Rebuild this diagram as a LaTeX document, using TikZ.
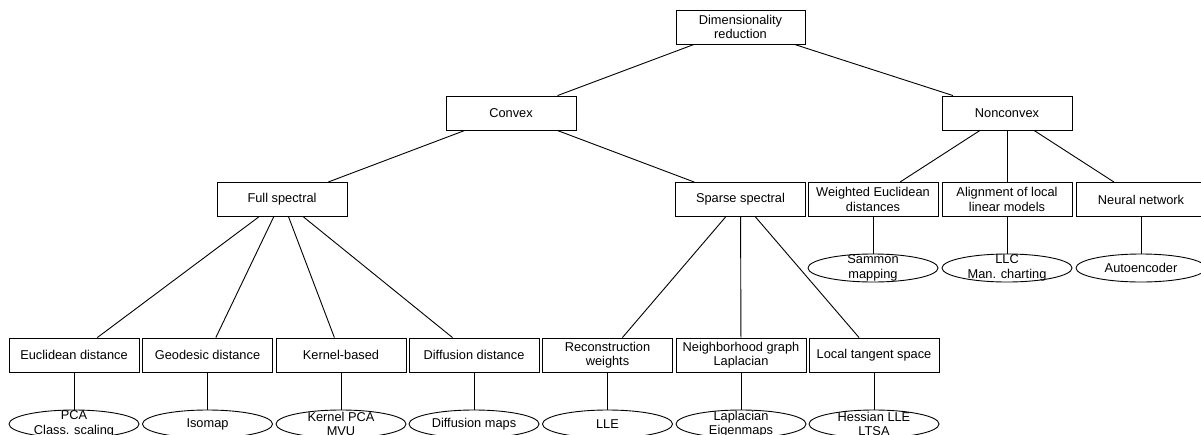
\documentclass[tikz,border=0pt]{standalone}
\usepackage{fontspec}
\setmainfont{Liberation Sans}
\usetikzlibrary{shapes.geometric}

\begin{document}
\begin{tikzpicture}[x=1pt, y=-1pt, line width=0.9pt,
    every node/.style={font=\fontsize{12.8}{14.5}\selectfont},
    box/.style={draw, rectangle, minimum width=130pt, minimum height=34pt,
        inner sep=0pt, align=center},
    leaf/.style={draw, ellipse, minimum width=130pt, minimum height=28pt,
        inner sep=0pt}]

\useasboundingbox (0, 0) rectangle (1201, 434);

% upper levels
\node[box, minimum width=129pt] (root) at (740.5, 27) {Dimensionality\\reduction};
\node[box] (convex) at (511, 113) {Convex};
\node[box] (nonconvex) at (1007, 113) {Nonconvex};

\node[box] (fullspec) at (282, 199.5) {Full spectral};
\node[box] (sparsespec) at (740.5, 199.5) {Sparse spectral};
\node[box] (weighted) at (873, 199.5) {Weighted Euclidean\\distances};
\node[box] (alignment) at (1007, 199.5) {Alignment of local\\linear models};
\node[box] (neural) at (1141, 199.5) {Neural network};

\node[leaf, label={[align=center]center:{Sammon\\mapping}}] (sammon) at (873, 268) {};
\node[leaf, label={[align=center]center:{LLC\\Man. charting}}] (llc) at (1007, 268) {};
\node[leaf, label={center:Autoencoder}] (autoenc) at (1141, 268) {};

% bottom level
\node[box] (euclid) at (74, 355) {Euclidean distance};
\node[box] (geodesic) at (207.5, 355) {Geodesic distance};
\node[box] (kernel) at (341, 355) {Kernel-based};
\node[box] (diffusion) at (474, 355) {Diffusion distance};
\node[box] (recon) at (607.5, 355) {Reconstruction\\weights};
\node[box] (neighbor) at (741, 355) {Neighborhood graph\\Laplacian};
\node[box] (tangent) at (874, 355) {Local tangent space};

\node[leaf, label={[align=center]center:{PCA\\Class. scaling}}] (pca) at (74, 424) {};
\node[leaf, label={center:Isomap}] (isomap) at (207.5, 424) {};
\node[leaf, label={[align=center]center:{Kernel PCA\\MVU}}] (kpca) at (341, 424) {};
\node[leaf, label={center:Diffusion maps}] (diffmaps) at (474, 424) {};
\node[leaf, label={center:LLE}] (lle) at (607.5, 424) {};
\node[leaf, label={[align=center]center:{Laplacian\\Eigenmaps}}] (laplacian) at (741, 424) {};
\node[leaf, label={[align=center]center:{Hessian LLE\\LTSA}}] (hessian) at (874, 424) {};

% connectors
\draw (root) -- (convex);
\draw (root) -- (nonconvex);
\draw (convex) -- (fullspec);
\draw (convex) -- (sparsespec);
\draw (nonconvex) -- (weighted);
\draw (nonconvex) -- (alignment);
\draw (nonconvex) -- (neural);
\draw (weighted) -- (sammon);
\draw (alignment) -- (llc);
\draw (neural) -- (autoenc);

\foreach \child in {euclid, geodesic, kernel, diffusion}
    \draw (fullspec) -- (\child);
\foreach \child in {recon, neighbor, tangent}
    \draw (sparsespec) -- (\child);

\draw (euclid) -- (pca);
\draw (geodesic) -- (isomap);
\draw (kernel) -- (kpca);
\draw (diffusion) -- (diffmaps);
\draw (recon) -- (lle);
\draw (neighbor) -- (laplacian);
\draw (tangent) -- (hessian);

\end{tikzpicture}
\end{document}
